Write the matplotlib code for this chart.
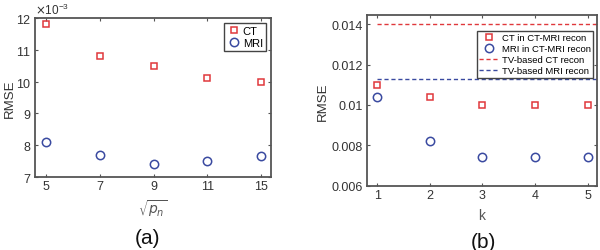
import matplotlib
matplotlib.use("Agg")
import matplotlib.pyplot as plt
from matplotlib.ticker import ScalarFormatter

# panel (a): RMSE vs sqrt(p_n)
pn_labels = ['5', '7', '9', '11', '15']
ct_a = [11.8e-3, 10.8e-3, 10.5e-3, 10.1e-3, 10.0e-3]
mri_a = [8.1e-3, 7.7e-3, 7.4e-3, 7.5e-3, 7.65e-3]

# panel (b): RMSE vs k
k_vals = [1, 2, 3, 4, 5]
ct_b = [0.0110, 0.0104, 0.0100, 0.0100, 0.0100]
mri_b = [0.0104, 0.0082, 0.0074, 0.0074, 0.0074]
tv_ct = 0.0140
tv_mri = 0.0113

RED = '#e0383c'
BLUE = '#3a4aa0'
SPINE = '#555555'

plt.rcParams['font.family'] = ['Liberation Sans', 'DejaVu Sans']

fig = plt.figure(figsize=(6.0, 2.51), dpi=100)
ax1 = fig.add_axes([0.058, 0.291, 0.393, 0.633])
ax2 = fig.add_axes([0.611, 0.256, 0.384, 0.681])


def style(ax):
    for s in ax.spines.values():
        s.set_color(SPINE)
        s.set_linewidth(1.3)
    ax.tick_params(direction='in', top=True, right=True, length=2.5,
                   width=0.8, color=SPINE, labelsize=9, pad=2.5,
                   labelcolor='#333333')


# (a)
xs = list(range(1, len(pn_labels) + 1))
ax1.plot(xs, ct_a, 's', ms=5, mfc='none', mec=RED, mew=1.1, label='CT')
ax1.plot(xs, mri_a, 'o', ms=6, mfc='none', mec=BLUE, mew=1.1, label='MRI')
ax1.set_xlim(0.79, 5.18)
ax1.set_ylim(7e-3, 12e-3)
ax1.set_xticks(xs)
ax1.set_xticklabels(pn_labels)
ax1.set_yticks([7e-3, 8e-3, 9e-3, 10e-3, 11e-3, 12e-3])
fmt = ScalarFormatter(useMathText=True)
fmt.set_powerlimits((-3, -3))
ax1.yaxis.set_major_formatter(fmt)
ax1.yaxis.get_offset_text().set_fontsize(8.5)
ax1.yaxis.get_offset_text().set_color('#555555')
ax1.set_ylabel('RMSE', fontsize=9.5, color='#333333', labelpad=0)
ax1.set_xlabel(r'$\sqrt{p_n}$', fontsize=10, color='#555555', labelpad=3)
style(ax1)
leg1 = ax1.legend(loc='upper right', fontsize=8, handletextpad=0.2,
                  handlelength=1.2, borderpad=0.3, labelspacing=0.2,
                  fancybox=False, framealpha=1, borderaxespad=0.4)
leg1.get_frame().set_edgecolor('#444444')
leg1.get_frame().set_linewidth(1.0)

# (b)
ax2.plot(k_vals, ct_b, 's', ms=5, mfc='none', mec=RED, mew=1.1,
         label='CT in CT-MRI recon')
ax2.plot(k_vals, mri_b, 'o', ms=6, mfc='none', mec=BLUE, mew=1.1,
         label='MRI in CT-MRI recon')
ax2.hlines(tv_ct, 1, 5.2, colors=RED, linestyles=(0, (3, 2)), lw=1.0,
           label='TV-based CT recon')
ax2.hlines(tv_mri, 1, 5.2, colors=BLUE, linestyles=(0, (3, 2)), lw=1.0,
           label='TV-based MRI recon')
ax2.set_xlim(0.8, 5.18)
ax2.set_ylim(0.006, 0.01446)
ax2.set_xticks(k_vals)
ax2.set_yticks([0.006, 0.008, 0.010, 0.012, 0.014])
ax2.set_yticklabels(['0.006', '0.008', '0.01', '0.012', '0.014'])
ax2.set_ylabel('RMSE', fontsize=9.5, color='#333333', labelpad=2)
ax2.set_xlabel('k', fontsize=10, color='#555555', labelpad=5)
style(ax2)
leg2 = ax2.legend(loc='upper right', fontsize=6.8, handletextpad=0.4,
                  handlelength=2.0, borderpad=0.25, labelspacing=0.22,
                  fancybox=False, framealpha=1, borderaxespad=0.4,
                  bbox_to_anchor=(1.0, 0.93))
leg2.get_frame().set_edgecolor('#444444')
leg2.get_frame().set_linewidth(1.0)

fig.text(0.245, 0.05, '(a)', fontsize=15, ha='center', va='center',
         color='#111111')
fig.text(0.805, 0.035, '(b)', fontsize=15, ha='center', va='center',
         color='#111111')

fig.savefig('out.png', dpi=100)
